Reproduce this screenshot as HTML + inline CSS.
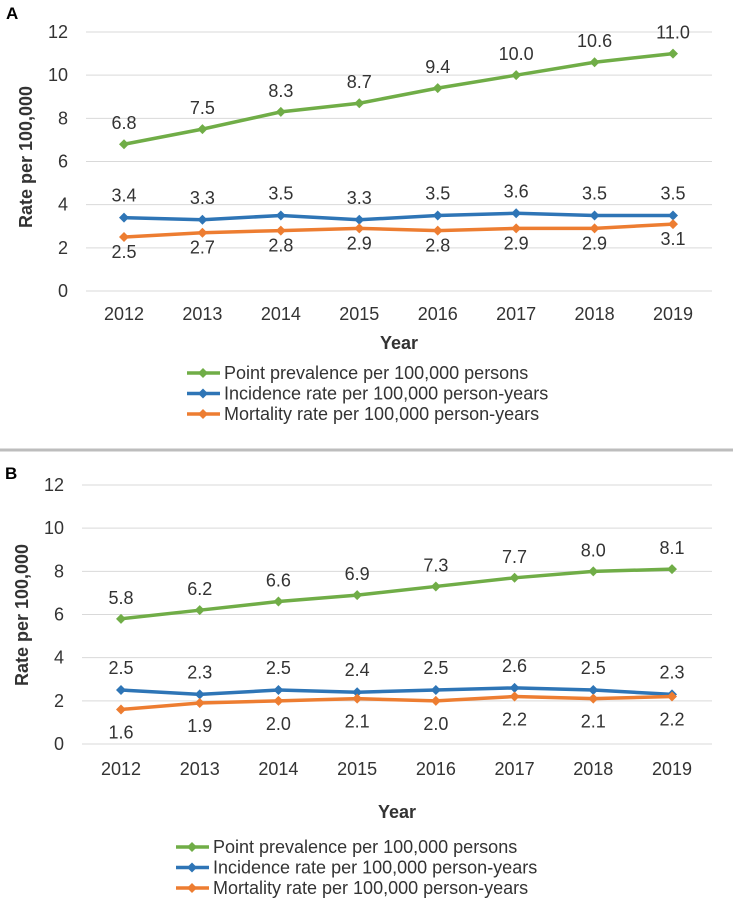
<!DOCTYPE html>
<html><head><meta charset="utf-8">
<style>
html,body{margin:0;padding:0;background:#fff;}
svg{display:block;}
text{font-family:"Liberation Sans Narrow","Liberation Sans",Arial,sans-serif;}
.bold{font-family:"Liberation Sans",Arial,sans-serif;font-weight:bold;}
</style></head>
<body>
<svg id="chart" width="733" height="902" viewBox="0 0 733 902" xmlns="http://www.w3.org/2000/svg">
<rect x="0" y="0" width="733" height="902" fill="#fff"/>
<line x1="0" y1="450" x2="733" y2="450" stroke="#bdbdbd" stroke-width="3"/>
</svg>
<script>
const years = ["2012","2013","2014","2015","2016","2017","2018","2019"];
const yTicks = [0,2,4,6,8,10,12];
const prevA = [6.8,7.5,8.3,8.7,9.4,10.0,10.6,11.0];
const incA = [3.4,3.3,3.5,3.3,3.5,3.6,3.5,3.5];
const mortA = [2.5,2.7,2.8,2.9,2.8,2.9,2.9,3.1];
const prevB = [5.8,6.2,6.6,6.9,7.3,7.7,8.0,8.1];
const incB = [2.5,2.3,2.5,2.4,2.5,2.6,2.5,2.3];
const mortB = [1.6,1.9,2.0,2.1,2.0,2.2,2.1,2.2];
const seriesNames = ["Point prevalence per 100,000 persons","Incidence rate per 100,000 person-years","Mortality rate per 100,000 person-years"];

const NS="http://www.w3.org/2000/svg";
const svg=document.getElementById('chart');
function mk(tag,attrs,parent){const e=document.createElementNS(NS,tag);for(const k in attrs)e.setAttribute(k,attrs[k]);(parent||svg).appendChild(e);return e;}
function txt(s,attrs,parent){const e=mk('text',attrs,parent);e.textContent=s;return e;}

const colors=["#70ad47","#2e75b6","#ed7d31"];

function panel(cfg){
  const g=mk('g',{});
  
  
  const yS=v=>cfg.y0-(v/12)*(cfg.y0-cfg.y12);
  const xS=i=>cfg.x0+i*(cfg.x1-cfg.x0)/(years.length-1);
  const pl=txt(cfg.id,{x:cfg.lx,y:cfg.ly,'font-size':17,class:'bold',fill:'#000'},g);
  
  
  yTicks.forEach(t=>{
    const l=mk('line',{x1:cfg.pl,x2:cfg.pr,y1:yS(t),y2:yS(t),stroke:'#d9d9d9','stroke-width':1},g);
    
    
    const tl=txt(String(t),{x:cfg.tx,y:yS(t)+6,'font-size':18,'text-anchor':'end',fill:'#333'},g);
    
    
  });
  years.forEach((yr,i)=>{
    const t=txt(yr,{x:xS(i),y:cfg.yl,'font-size':18,'text-anchor':'middle',fill:'#333'},g);
    
    
  });
  const xt=txt('Year',{x:(cfg.pl+cfg.pr)/2,y:cfg.xtY,'font-size':18,class:'bold','text-anchor':'middle',fill:'#333'},g);
  
  
  const yt=txt('Rate per 100,000',{x:0,y:0,'font-size':18,class:'bold','text-anchor':'middle',fill:'#333',transform:`translate(${cfg.ytx},${cfg.yty}) rotate(-90)`},g);
  
  
  const data=[cfg.prev,cfg.inc,cfg.mort];
  const offs=[-21,-22,cfg.mortOff];
  const names=['prevalence','incidence','mortality'];
  data.forEach((arr,s)=>{
    const pts=arr.map((v,i)=>xS(i)+','+yS(v)).join(' ');
    const line=mk('polyline',{points:pts,fill:'none',stroke:colors[s],'stroke-width':3.5,'stroke-linejoin':'round'},g);
    
    
    arr.forEach((v,i)=>{
      const cx=xS(i),cy=yS(v);
      const m=mk('polygon',{points:`${cx},${cy-5} ${cx+5},${cy} ${cx},${cy+5} ${cx-5},${cy}`,fill:colors[s]},g);
      
      
      const lb=txt(v.toFixed(1),{x:cx,y:cy+offs[s]+6,'font-size':18,'text-anchor':'middle',fill:'#333'},g);
      
      
    });
  });
  seriesNames.forEach((n,s)=>{
    const y=cfg.legY+s*20.5;
    const lg=mk('g',{},g);
    
    
    mk('line',{x1:cfg.legX,x2:cfg.legX+33,y1:y,y2:y,stroke:colors[s],'stroke-width':3.5},lg);
    const c=cfg.legX+16;
    mk('polygon',{points:`${c},${y-5} ${c+5},${y} ${c},${y+5} ${c-5},${y}`,fill:colors[s]},lg);
    txt(n,{x:cfg.legX+37,y:y+6,'font-size':18,fill:'#333'},lg);
  });
}

panel({id:'A',lx:6,ly:19,y0:291,y12:32,x0:124,x1:673,pl:86,pr:712,tx:68,yl:320,xtY:349,ytx:32,yty:157,
  prev:prevA,inc:incA,mort:mortA,mortOff:15,legX:187,legY:373});
panel({id:'B',lx:5,ly:479,y0:744,y12:485,x0:121,x1:672,pl:82,pr:712,tx:64,yl:775,xtY:818,ytx:28,yty:615,
  prev:prevB,inc:incB,mort:mortB,mortOff:23,legX:176,legY:847});
</script>
</body></html>
